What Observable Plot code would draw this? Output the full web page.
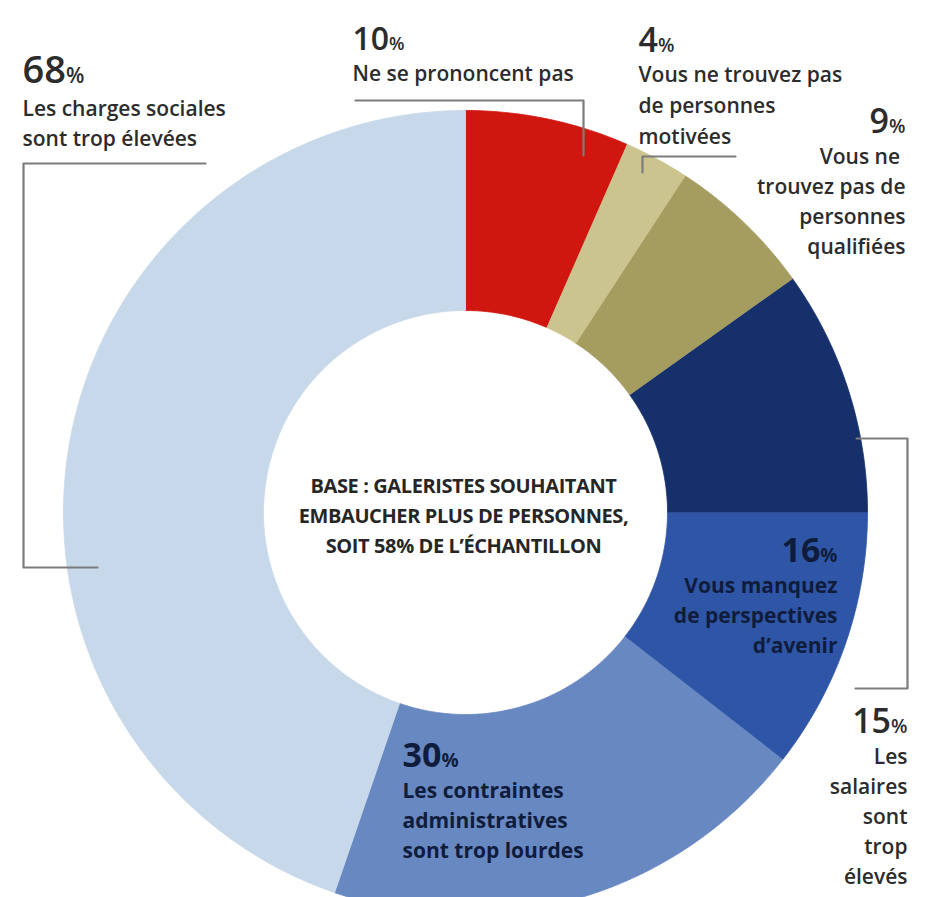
<!DOCTYPE html>
<html><head><meta charset="utf-8">
<script src="https://cdn.jsdelivr.net/npm/d3@7"></script>
<script src="https://cdn.jsdelivr.net/npm/@observablehq/plot@0.6"></script>
<style>
html,body{margin:0;padding:0;background:#fff;overflow:hidden}
#chart svg{display:block}
</style></head><body><div id="chart"></div>
<script>
// ---- data ----
const categories = [
  "Ne se prononcent pas",
  "Vous ne trouvez pas de personnes motivées",
  "Vous ne trouvez pas de personnes qualifiées",
  "Les salaires sont trop élevés",
  "Vous manquez de perspectives d’avenir",
  "Les contraintes administratives sont trop lourdes",
  "Les charges sociales sont trop élevées"
];
const values = [10, 4, 9, 15, 16, 30, 68];
const percentLabels = ["10%", "4%", "9%", "15%", "16%", "30%", "68%"];
const descriptionLines = [
  ["Ne se prononcent pas"],
  ["Vous ne trouvez pas", "de personnes", "motivées"],
  ["Vous ne ", "trouvez pas de", "personnes", "qualifiées"],
  ["Les", "salaires", "sont", "trop", "élevés"],
  ["Vous manquez", "de perspectives", "d’avenir"],
  ["Les contraintes", "administratives", "sont trop lourdes"],
  ["Les charges sociales", "sont trop élevées"]
];
const sliceColors = ["#d0170f", "#cbc48e", "#a59c60", "#16306c", "#2f56a6", "#6888c2", "#c7d8ea"];
const centerNote = ["BASE : GALERISTES SOUHAITANT", "EMBAUCHER PLUS DE PERSONNES,", "SOIT 58% DE L’ÉCHANTILLON"];

// ---- layout ----
const W = 936, H = 897;
const cx = 465, cy = 512, R = 402, r0 = 202;
const lineGap = 30;
const labelLayout = [
  {x: 352, py: 49, ly: 80, anchor: "start", inside: false, size: 32},
  {x: 638, py: 51, ly: 81, anchor: "start", inside: false, gap: 31, size: 34},
  {x: 905, py: 132, ly: 163, anchor: "end", inside: false, size: 34},
  {x: 907, py: 732, ly: 763, anchor: "end", inside: false, size: 34},
  {x: 837, py: 561, ly: 592, anchor: "end", inside: true, size: 34},
  {x: 402, py: 766, ly: 797, anchor: "start", inside: true, size: 34},
  {x: 22, py: 82, ly: 115, anchor: "start", inside: false, size: 38}
];
const leaderPaths = [
  [[205, 163], [23, 163], [23, 567], [97, 567]],
  [[355, 100], [583, 100], [583, 155]],
  [[735, 156], [642, 156], [642, 172]],
  [[856, 438], [907, 438], [907, 688], [855, 688]]
];

// ---- build slice polygons from pie angles ----
const pie = d3.pie().sort(null).value(d => d)(values);
const arcPoints = [];
pie.forEach((p, i) => {
  const n = Math.max(8, Math.ceil((p.endAngle - p.startAngle) * 80));
  const pt = (a, rad) => ({category: categories[i], x: cx + rad * Math.sin(a), y: cy - rad * Math.cos(a)});
  for (let k = 0; k <= n; k++) arcPoints.push(pt(p.startAngle + (p.endAngle - p.startAngle) * k / n, R));
  for (let k = n; k >= 0; k--) arcPoints.push(pt(p.startAngle + (p.endAngle - p.startAngle) * k / n, r0));
});

const leaders = leaderPaths.flatMap((path, id) => path.map(([x, y]) => ({id, x, y})));

const pctRows = labelLayout.map((L, i) => ({x: L.x, y: L.py, text: percentLabels[i], anchor: L.anchor, inside: L.inside, size: L.size}));
const descRows = labelLayout.flatMap((L, i) => descriptionLines[i].map((t, j) => ({
  x: L.x, y: L.ly + j * (L.gap || lineGap), text: t, anchor: L.anchor, inside: L.inside
})));
const centerRows = centerNote.map((t, j) => ({x: 463, y: 492 + j * 30, text: t}));

const labelFont = "'Open Sans', 'Noto Sans', sans-serif";
const textMarks = (rows, opts) => ["start", "end"].map(a => Plot.text(rows.filter(d => d.anchor === a), {
  x: "x", y: "y", text: "text", textAnchor: a, lineAnchor: "bottom", fontFamily: labelFont, ...opts
}));

const chart = Plot.plot({
  width: W, height: H, margin: 0,
  x: {domain: [0, W], range: [0, W], axis: null},
  y: {domain: [0, H], range: [0, H], axis: null},
  color: {domain: categories, range: sliceColors},
  marks: [
    Plot.line(arcPoints, {x: "x", y: "y", z: "category", fill: "category", stroke: "category", strokeWidth: 0.8, curve: "linear"}),
    Plot.line(leaders, {x: "x", y: "y", z: "id", stroke: "#7c7c7c", strokeWidth: 2.2}),
    ...textMarks(pctRows.filter(d => !d.inside), {fontSize: "size", fontWeight: 600, fill: "#2c2c2c"}),
    ...textMarks(pctRows.filter(d => d.inside), {fontSize: "size", fontWeight: 700, fill: "#101c3c"}),
    ...textMarks(descRows.filter(d => !d.inside), {fontSize: 21, fontWeight: 600, fill: "#2c2c2c"}),
    ...textMarks(descRows.filter(d => d.inside), {fontSize: 21, fontWeight: 700, fill: "#101c3c"}),
    Plot.text(centerRows, {x: "x", y: "y", text: "text", textAnchor: "middle", lineAnchor: "bottom",
      fontFamily: labelFont, fontSize: 20, fontWeight: 700, fill: "#262626"})
  ]
});

// condensed look for the centre note
chart.querySelectorAll("text").forEach(t => {
  if (centerNote.includes(t.textContent)) t.setAttribute("letter-spacing", "-0.4");
});
// smaller % sign, as in the original
chart.querySelectorAll("text").forEach(t => {
  const m = /^(\d+)%$/.exec(t.textContent);
  if (m) {
    t.textContent = m[1];
    const s = document.createElementNS("http://www.w3.org/2000/svg", "tspan");
    s.setAttribute("font-size", "0.56em");
    s.textContent = "%";
    t.appendChild(s);
  }
});
document.getElementById("chart").appendChild(chart);
</script>
</body></html>
